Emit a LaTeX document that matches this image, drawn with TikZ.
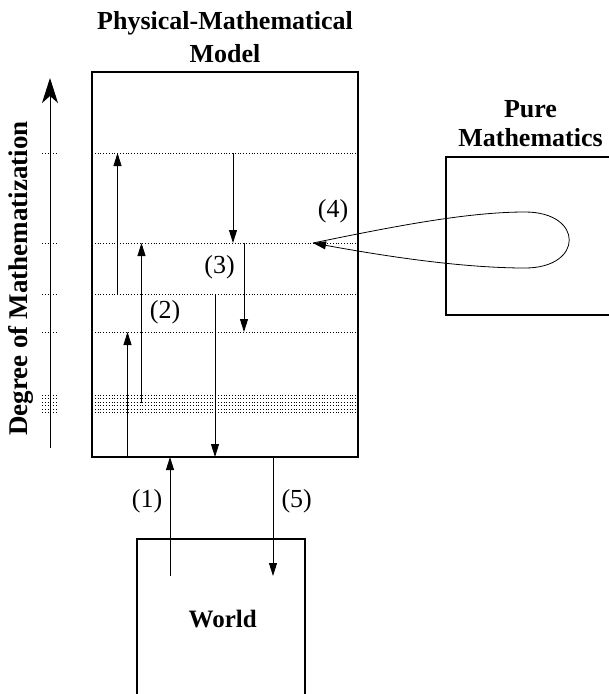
\documentclass[tikz,border=0pt]{standalone}
\usepackage{fontspec}
\setmainfont{Liberation Serif}
\usetikzlibrary{arrows.meta}
\begin{document}
\begin{tikzpicture}[x=1pt,y=-1pt,
  box/.style={draw, line width=1.8pt, inner sep=0pt},
  conn/.style={line width=0.8pt, -{Triangle[length=13pt,width=8pt]}},
  lvl/.style={dotted, line width=0.8pt},
  title/.style={font=\fontsize{26}{33}\selectfont\bfseries, align=center, inner sep=0pt},
  num/.style={font=\fontsize{26}{30}\selectfont, inner sep=0pt}]
\useasboundingbox (0,0) rectangle (609,694);
% boxes
\node[box, minimum width=266pt, minimum height=385pt] (M) at (225,264.5) {};
\node[box, minimum width=179pt, minimum height=158pt] (P) at (535.5,236) {};
\node[box, minimum width=168pt, minimum height=171pt] (W) at (221,624.5) {};
% titles
\node[title] (tM) at (225,37) {Physical-Mathematical\\Model};
\node[title, font=\fontsize{26}{29}\selectfont\bfseries] (tP) at (530.5,123.5) {Pure\\Mathematics};
\node[title, font=\fontsize{25}{29}\selectfont\bfseries, anchor=base] (tW) at (222.7,627) {World};
\node[rotate=90, font=\fontsize{27}{30}\selectfont\bfseries, inner sep=0pt] (tD) at (21,278.5) {Degree of Mathematization};
% axis
\coordinate (a0) at (50,448);
\coordinate (a1) at (50,78);
\draw[line width=1pt, -{Stealth[length=25pt,width=16pt,inset=7pt]}] (a0) -- (a1);
% levels
\foreach \y in {153,243,294,332,395,398.5,402,405.5,409,412.5}{
  \draw[lvl] (92,\y) -- (358,\y);
  \draw[lvl] (42,\y) -- (57,\y);
}
% coordinates
\coordinate (u1s) at (117.5,294); \coordinate (u1e) at (117.5,153);
\coordinate (u2s) at (141.5,403); \coordinate (u2e) at (141.5,243);
\coordinate (u3s) at (127.5,457); \coordinate (u3e) at (127.5,332);
\coordinate (d1s) at (233,153); \coordinate (d1e) at (233,243);
\coordinate (d2s) at (244,243); \coordinate (d2e) at (244,332);
\coordinate (d3s) at (215,294); \coordinate (d3e) at (215,457);
\coordinate (w1s) at (170,576); \coordinate (w1e) at (170,457);
\coordinate (w5s) at (273,457); \coordinate (w5e) at (273,576);
\coordinate (tip) at (313,243);
% arrows
\draw[conn] (u1s) -- (u1e);
\draw[conn] (u2s) -- (u2e);
\draw[conn] (u3s) -- (u3e);
\draw[conn] (d1s) -- (d1e);
\draw[conn] (d2s) -- (d2e);
\draw[conn] (d3s) -- (d3e);
\draw[conn] (w1s) -- (w1e);
\draw[conn] (w5s) -- (w5e);
\draw[conn] (tip) .. controls (400,225) and (470,212) .. (525,212)
  .. controls (584,212) and (584,268) .. (525,268)
  .. controls (470,268) and (400,259) .. (tip);
% labels
\node[num] (n1) at (147,501) {(1)};
\node[num] (n2) at (165,312) {(2)};
\node[num] (n3) at (219.5,267.5) {(3)};
\node[num] (n4) at (333,211.7) {(4)};
\node[num] (n5) at (296.7,501) {(5)};
\end{tikzpicture}
\end{document}
